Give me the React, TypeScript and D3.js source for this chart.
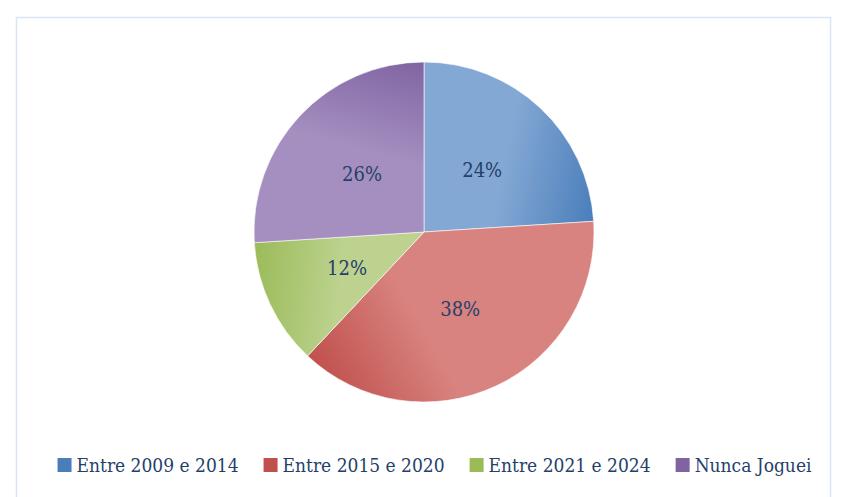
import { useEffect, useRef } from "react";
import * as d3 from "d3";

const categories = ["Entre 2009 e 2014", "Entre 2015 e 2020", "Entre 2021 e 2024", "Nunca Joguei"];
const shares = [24, 38, 12, 26];
const lightColors = ["#84a8d4", "#d8837f", "#bcd28e", "#a48fc0"];
const darkColors = ["#4a7ebb", "#c0504d", "#9bbb59", "#8064a2"];

const W = 852;
const H = 497;
const cx = 424;
const cy = 232;
const R = 170;
const textColor = "#263f6a";
const fontFamily = "'DejaVu Serif Condensed', 'DejaVu Serif', serif";

export default function App() {
  const svgRef = useRef<SVGSVGElement>(null);

  useEffect(() => {
    document.body.style.margin = "0";
    if (!svgRef.current) return;
    const svg = d3.select(svgRef.current);
    svg.selectAll("*").remove();

    // frame
    svg
      .append("rect")
      .attr("x", 16.5)
      .attr("y", 17.5)
      .attr("width", 814)
      .attr("height", H)
      .attr("fill", "#fff")
      .attr("stroke", "#dbe5f3")
      .attr("stroke-width", 1.5);

    const data = categories.map((c, i) => ({ label: c, value: shares[i], i }));
    const pie = d3
      .pie<(typeof data)[number]>()
      .value((d) => d.value)
      .sort(null);
    const arcs = pie(data);
    const arc = d3.arc<d3.PieArcDatum<(typeof data)[number]>>().innerRadius(0).outerRadius(R);

    const defs = svg.append("defs");
    // coordinates relative to the pie centre (the slices sit in a translated group)
    const pt = (a: number, r: number) => [Math.sin(a) * r, -Math.cos(a) * r];

    // light inside the slice, darker toward the outer end edge
    arcs.forEach((a, i) => {
      const mid = (a.startAngle + a.endAngle) / 2;
      const [x1, y1] = pt(mid, R * 0.3);
      const [x2, y2] = pt(a.endAngle, R);
      const g = defs
        .append("linearGradient")
        .attr("id", `grad${i}`)
        .attr("gradientUnits", "userSpaceOnUse")
        .attr("x1", x1)
        .attr("y1", y1)
        .attr("x2", x2)
        .attr("y2", y2);
      g.append("stop").attr("offset", "0%").attr("stop-color", lightColors[i]);
      g.append("stop").attr("offset", "28%").attr("stop-color", lightColors[i]);
      g.append("stop").attr("offset", "100%").attr("stop-color", darkColors[i]);
    });

    const g = svg.append("g").attr("transform", `translate(${cx},${cy})`);

    g.selectAll("path.slice")
      .data(arcs)
      .join("path")
      .attr("class", "slice")
      .attr("d", arc)
      .attr("fill", (_d, i) => `url(#grad${i})`)
      .attr("stroke", "#ffffff")
      .attr("stroke-opacity", 0.6)
      .attr("stroke-width", 1);

    g.selectAll("text.lbl")
      .data(arcs)
      .join("text")
      .attr("class", "lbl")
      .attr("transform", (d) => `translate(${arc.centroid(d)})`)
      .attr("text-anchor", "middle")
      .attr("dominant-baseline", "central")
      .attr("font-family", fontFamily)
      .attr("font-size", 20)
      .attr("fill", textColor)
      .text((d) => `${d.data.value}%`);

    // legend
    const legend = svg.append("g");
    const items = legend
      .selectAll("g.item")
      .data(data)
      .join("g")
      .attr("class", "item");
    items
      .append("rect")
      .attr("width", 14)
      .attr("height", 14)
      .attr("y", -14)
      .attr("fill", (d) => darkColors[d.i]);
    items
      .append("text")
      .attr("x", 19)
      .attr("y", 0)
      .attr("font-family", fontFamily)
      .attr("font-size", 19)
      .attr("fill", textColor)
      .text((d) => d.label);

    const gap = 25;
    const widths: number[] = [];
    items.each(function () {
      const t = d3.select(this).select<SVGTextElement>("text").node()!;
      widths.push(19 + t.getComputedTextLength());
    });
    const total = d3.sum(widths) + gap * (widths.length - 1);
    let x = 434.5 - total / 2;
    items.attr("transform", (_d, i) => {
      const tx = x;
      x += widths[i] + gap;
      return `translate(${tx},472)`;
    });
  }, []);

  return <svg ref={svgRef} width={W} height={H} style={{ display: "block", background: "#fff" }} />;
}
